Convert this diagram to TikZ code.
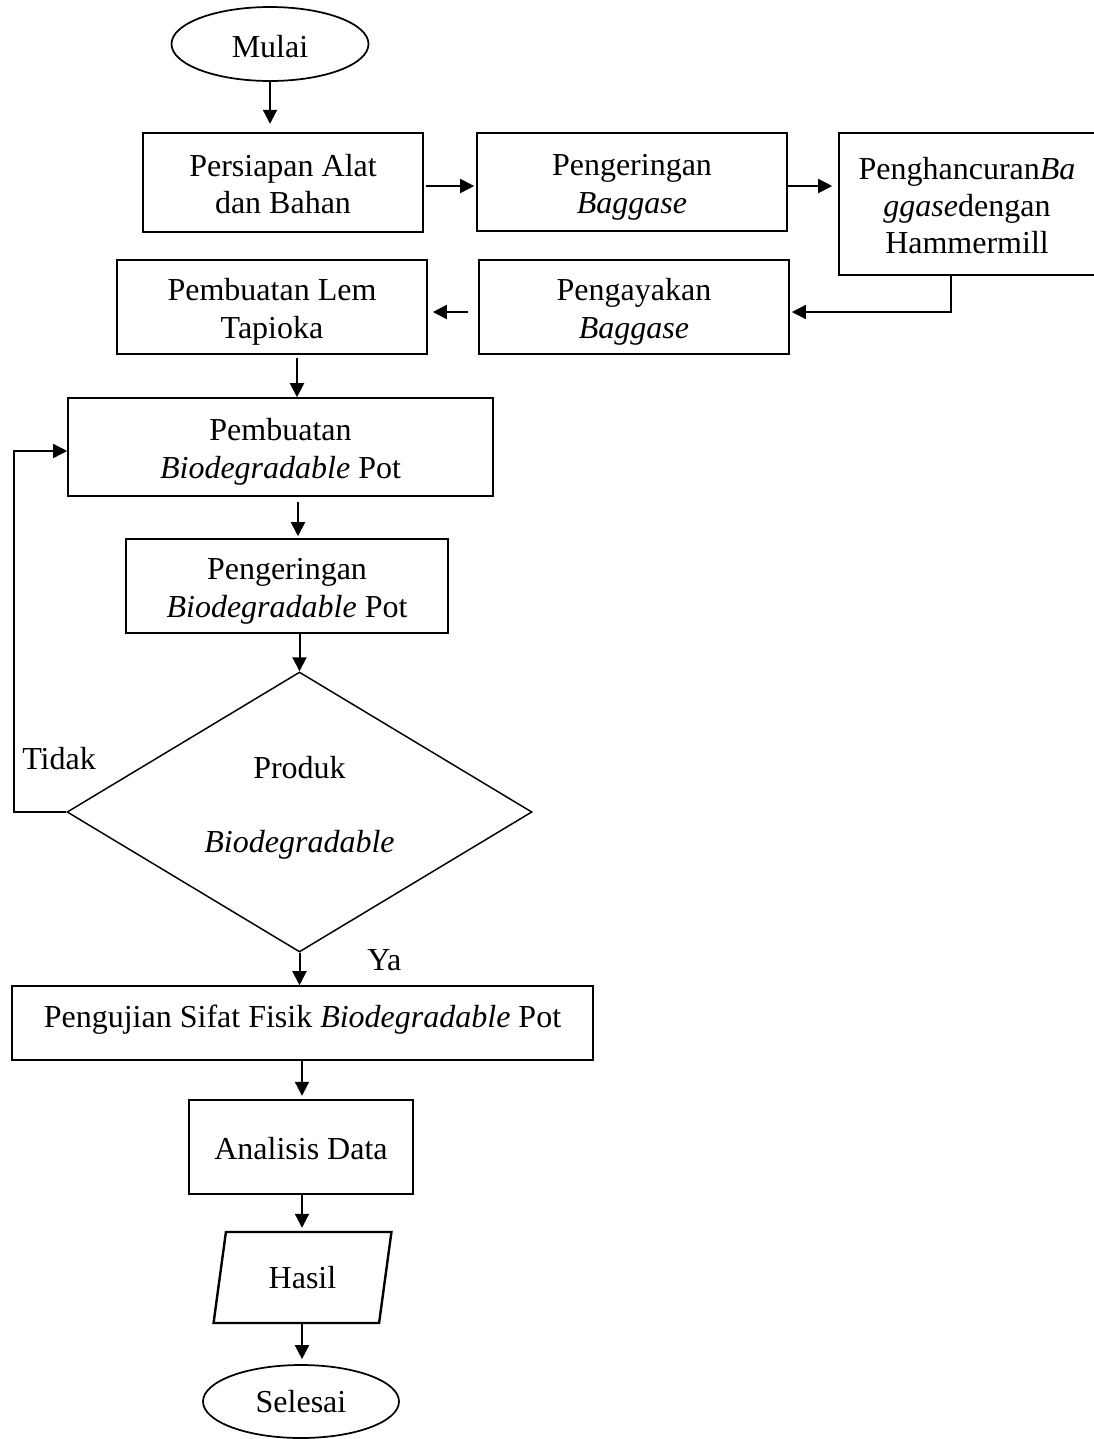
\documentclass[tikz,border=0pt]{standalone}
\usepackage{fontspec}
\setmainfont{Liberation Serif}
\usetikzlibrary{arrows.meta,shapes.geometric}
% struts: cap height and descenders balanced around the text block
\newcommand\fcstrut{\rule[-5pt]{0pt}{25.9pt}}
\newcommand\fctop{\rule{0pt}{23.9pt}}
\newcommand\fcone{\rule[-5pt]{0pt}{28.9pt}}
\begin{document}
\begin{tikzpicture}[x=0.75pt,y=-0.75pt,
  every node/.style={font=\fontsize{24pt}{28pt}\selectfont},
  frame/.style={draw, align=center, inner sep=0pt},
  box/.style={frame, line width=1.2pt, execute at end node=\fcstrut},
  boldbox/.style={box, line width=1.8pt},
  single/.style={frame, line width=1.2pt,
    execute at begin node=\fcone, execute at end node=\fcstrut},
  term/.style={ellipse, draw, line width=1.3pt, inner sep=0pt,
    minimum width=147.75pt, minimum height=57pt},
  decision/.style={diamond, draw, line width=1.1pt, inner sep=0pt, aspect=1.66,
    align=center, minimum width=348.75pt, minimum height=210pt},
  io/.style={trapezium, trapezium left angle=76.4, trapezium right angle=103.6,
    trapezium stretches=true, draw, line width=1.8pt, inner sep=0pt},
  arr/.style={-{Triangle[length=10.5pt,width=10.5pt]}, line width=1.5pt},
  thinline/.style={line width=1.1pt},
  lbl/.style={inner sep=0pt, anchor=base west}
]
\fill[white] (0,0) rectangle (1094,1439);
\useasboundingbox (0,0) rectangle (1094,1439);

% process steps
\node[term, minimum height=55.5pt] (mulai) at (270,44) {\rule{0pt}{21pt}Mulai};
\node[boldbox, minimum width=210pt, minimum height=74.25pt] (persiapan) at (283,182.5)
  {\fctop Persiapan Alat\\dan Bahan};
\node[box, minimum width=232.5pt, minimum height=73.5pt] (peng1) at (632,182)
  {\fctop Pengeringan\\\textit{Baggase}};
\node[box, minimum width=192pt, minimum height=106.5pt] (hancur) at (967,204)
  {\fctop Penghancuran\textit{Ba}\\\textit{ggase}dengan\\Hammermill};
\node[box, minimum width=232.5pt, minimum height=70.5pt] (ayak) at (634,307)
  {\fctop Pengayakan\\\textit{Baggase}};
\node[box, minimum width=232.5pt, minimum height=70.5pt] (lem) at (272,307)
  {\fctop Pembuatan Lem\\Tapioka};
\node[box, minimum width=318.75pt, minimum height=73.5pt] (buat) at (280.5,447)
  {\fctop Pembuatan\\\textit{Biodegradable} Pot};
\node[box, minimum width=241.5pt, minimum height=70.5pt] (kering) at (287,586)
  {\fctop Pengeringan\\\textit{Biodegradable} Pot};
\node[decision] (dec) at (299.5,812)
  {Produk\\[27.15pt]\textit{Biodegradable}\rule[-11.7pt]{0pt}{11.7pt}};
\node[single, minimum width=435.75pt, minimum height=55.5pt] (uji) at (302.5,1023)
  {Pengujian Sifat Fisik \textit{Biodegradable} Pot\rule[-17pt]{0pt}{17pt}};
\node[single, line width=1.8pt, minimum width=168pt, minimum height=70.5pt] (analisis) at (301,1147)
  {Analisis Data};
\node[io, minimum width=134.25pt, minimum height=68.25pt] (hasil) at (302.5,1277.5)
  {Hasil};
\node[term, minimum width=147pt, minimum height=54.75pt] (selesai) at (301,1401.5)
  {Selesai};

% branch labels
\node[lbl] (tidak) at (22,769) {Tidak};
\node[lbl] (ya) at (367,970) {Ya};

% routing helpers
\coordinate (r1) at (0,186);
\coordinate (r2) at (0,312);
\coordinate (r3) at (0,451);
\coordinate (hx) at (951,0);
\coordinate (lx) at (14,0);
\coordinate (cA) at (297,0);
\coordinate (cB) at (298,0);
\coordinate (cC) at (302,0);

% connectors
\draw[arr, shorten >=6pt] (mulai.south) -- (mulai.south |- persiapan.north);
\draw[arr, shorten <=1.5pt, shorten >=1.5pt] (persiapan.east |- r1) -- (peng1.west |- r1);
\draw[arr, shorten >=4.5pt] (peng1.east |- r1) -- (hancur.west |- r1);
\draw[arr, thinline, shorten >=1.5pt] (hancur.south -| hx) |- (ayak.east |- r2);
\draw[arr, shorten <=7.5pt, shorten >=3.75pt] (ayak.west |- r2) -- (lem.east |- r2);
\draw[arr, shorten <=2.25pt] (lem.south -| cA) -- (buat.north -| cA);
\draw[arr, shorten <=3.75pt, shorten >=1.5pt] (buat.south -| cB) -- (kering.north -| cB);
\draw[arr] (kering.south -| dec.north) -- (dec.north);
\draw[arr] (dec.south) -- (dec.south |- uji.north);
\draw[arr, thinline] (dec.west) -| (lx |- r3) -- (buat.west |- r3);
\draw[arr, shorten >=2.25pt] (uji.south -| cC) -- (analisis.north -| cC);
\draw[arr, shorten >=2.25pt] (analisis.south -| cC) -- (hasil.north -| cC);
\draw[arr, shorten >=3.75pt] (hasil.south -| cC) -- (selesai.north -| cC);
\end{tikzpicture}
\end{document}
